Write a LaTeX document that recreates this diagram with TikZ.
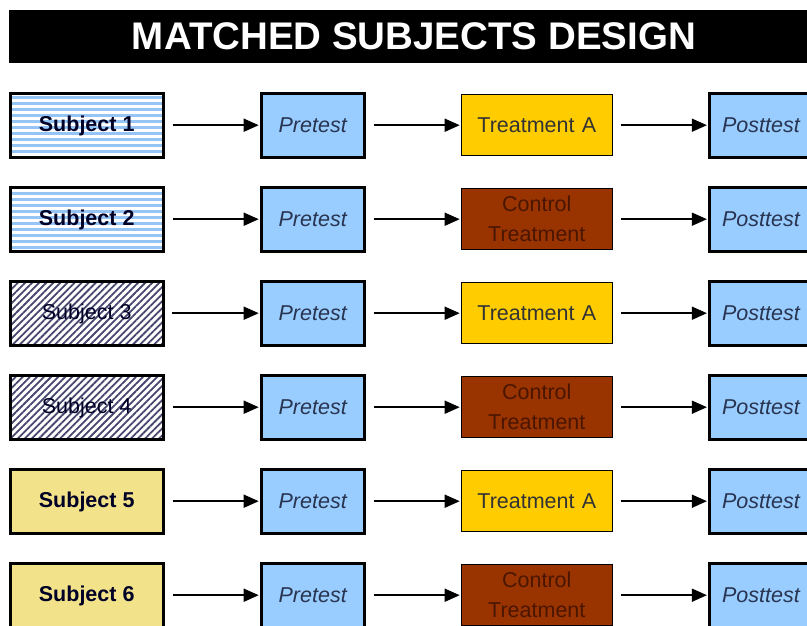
\documentclass[tikz,border=0pt]{standalone}
\usepackage{fontspec}
\setmainfont{Liberation Sans}
\usetikzlibrary{matrix,arrows.meta,patterns.meta}

\definecolor{preblue}{RGB}{153,204,255}
\definecolor{stripeblue}{RGB}{150,196,245}
\definecolor{hatchnavy}{RGB}{70,70,110}
\definecolor{subjyellow}{RGB}{242,226,138}
\definecolor{treatgold}{RGB}{255,204,0}
\definecolor{ctrlbrown}{RGB}{153,51,0}
\definecolor{ctrltext}{RGB}{75,22,0}
\definecolor{pretext}{RGB}{40,52,80}

\tikzset{
    box/.style={draw, line width=3pt, anchor=center, minimum height=64pt, inner sep=2pt,
        font=\fontsize{21.5}{26}\selectfont},
    subj/.style={box, minimum width=153pt, text=black!85!blue, text depth=3pt,
        font=\fontsize{21.5}{26}\selectfont\bfseries},
    stripes/.style={subj, pattern={Lines[angle=0,distance=6pt,line width=3pt]}, pattern color=stripeblue},
    hatch/.style={subj, pattern={Lines[angle=45,distance=5pt,line width=1.8pt]}, pattern color=hatchnavy,
        font=\fontsize{21.5}{26}\selectfont},
    dots/.style={subj, fill=subjyellow},
    pre/.style={box, minimum width=103pt, fill=preblue, text=pretext,
        font=\fontsize{21.5}{26}\selectfont\itshape},
    treat/.style={box, line width=1.2pt, minimum width=151pt, minimum height=61pt, fill=treatgold,
        text=black!80, text width=140pt, align=center},
    ctrl/.style={treat, fill=ctrlbrown, text=ctrltext, font=\fontsize{21.5}{30}\selectfont},
    arr/.style={-{Triangle[length=15pt,width=13pt]}, line width=1.5pt, shorten <=8pt, shorten >=1pt}
}

\begin{document}
\begin{tikzpicture}[x=1pt,y=-1pt]
    \path[use as bounding box, clip] (0,0) rectangle (807,626);
    \node[fill=black, text=white, minimum width=810pt, minimum height=53pt, inner sep=0pt,
        font=\fontsize{38.5}{40}\selectfont\bfseries] (title) at (414,36.5) {MATCHED SUBJECTS DESIGN};
    \matrix (D) [matrix of nodes, anchor=north west, inner sep=0pt, column sep=95pt, row sep=27pt,
        column 2/.style={nodes={pre}}, column 4/.style={nodes={pre}}] at (8.5,91.5) {
        |[stripes]| Subject 1 & Pretest & |[treat]| Treatment A & Posttest \\
        |[stripes]| Subject 2 & Pretest & |[ctrl]| Control Treatment & Posttest \\
        |[hatch]| Subject 3 & Pretest & |[treat]| Treatment A & Posttest \\
        |[hatch]| Subject 4 & Pretest & |[ctrl]| Control Treatment & Posttest \\
        |[dots]| Subject 5 & Pretest & |[treat]| Treatment A & Posttest \\
        |[dots]| Subject 6 & Pretest & |[ctrl]| Control Treatment & Posttest \\
    };
    \foreach \r in {1,...,6}
        \foreach \a/\b in {1/2,2/3,3/4}
            \draw[arr] (D-\r-\a) -- (D-\r-\b);
\end{tikzpicture}
\end{document}
